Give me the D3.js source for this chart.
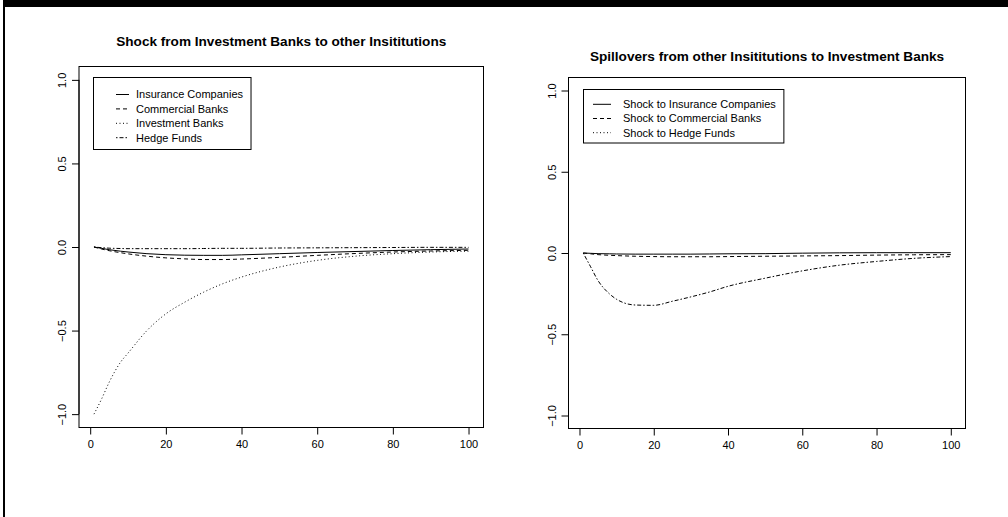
<!DOCTYPE html>
<html>
<head>
<meta charset="utf-8">
<script src="https://cdn.jsdelivr.net/npm/d3@7"></script>
<style>
  body { margin: 0; background: #fff; }
  svg { display: block; font-family: "Liberation Sans", Arial, sans-serif; }
</style>
</head>
<body>
<div id="chart"></div>
<script>
const steps = [1, 3, 5, 8, 10, 15, 20, 25, 30, 35, 40, 50, 60, 70, 80, 90, 100]

// left panel: shock from investment banks
const insurance  = [0, -0.008, -0.016, -0.025, -0.03, -0.04, -0.046, -0.049, -0.05, -0.05, -0.047, -0.04, -0.033, -0.027, -0.021, -0.016, -0.012]
const commercial = [0, -0.012, -0.022, -0.034, -0.041, -0.055, -0.065, -0.071, -0.075, -0.075, -0.072, -0.062, -0.05, -0.039, -0.03, -0.024, -0.02]
const investment = [-1.0, -0.91, -0.81, -0.69, -0.635, -0.5, -0.4, -0.33, -0.27, -0.22, -0.18, -0.12, -0.08, -0.055, -0.04, -0.03, -0.025]
const hedge      = [0, -0.004, -0.007, -0.009, -0.01, -0.01, -0.01, -0.01, -0.009, -0.008, -0.008, -0.006, -0.005, -0.004, -0.003, -0.002, -0.002]

// right panel: spillovers to investment banks
const shockInsurance  = [0, -0.002, -0.004, -0.005, -0.006, -0.007, -0.007, -0.007, -0.007, -0.006, -0.005, -0.004, -0.001, 0.001, 0.002, 0.002, 0.002]
const shockCommercial = [0, -0.005, -0.01, -0.014, -0.016, -0.02, -0.022, -0.023, -0.023, -0.023, -0.022, -0.02, -0.018, -0.016, -0.013, -0.011, -0.01]
const shockHedge      = [0, -0.085, -0.17, -0.25, -0.285, -0.32, -0.322, -0.297, -0.27, -0.24, -0.205, -0.155, -0.11, -0.075, -0.052, -0.033, -0.022]

const xTicks = [0, 20, 40, 60, 80, 100]
const yTicks = [-1.0, -0.5, 0.0, 0.5, 1.0]

const leftTitle = 'Shock from Investment Banks to other Insititutions'
const rightTitle = 'Spillovers from other Insititutions to Investment Banks'
const leftLegend = ['Insurance Companies', 'Commercial Banks', 'Investment Banks', 'Hedge Funds']
const rightLegend = ['Shock to Insurance Companies', 'Shock to Commercial Banks', 'Shock to Hedge Funds']

// R line types
const dash = { solid: null, dashed: '4,3', dotted: '1,2.5', dotdash: '1.5,2,4,2' }

var width = 1008, height = 517

var svg = d3.select('#chart').append('svg')
    .attr('width', width)
    .attr('height', height)

// outer frame: thick top bar and thin left rule
svg.append('rect').attr('x', 3).attr('y', 0).attr('width', width - 3).attr('height', 7).attr('fill', '#000')
svg.append('rect').attr('x', 3).attr('y', 0).attr('width', 2).attr('height', height).attr('fill', '#000')

function panel(cfg) {
    // R pads the range by 4% on each side
    var x = d3.scaleLinear().domain([1 - 3.96, 100 + 3.96]).range([cfg.left, cfg.right])
    var y = d3.scaleLinear().domain([-1.08, 1.08]).range([cfg.bottom, cfg.top])

    var g = svg.append('g')

    g.append('text')
        .attr('x', (cfg.left + cfg.right) / 2)
        .attr('y', cfg.titleY)
        .attr('text-anchor', 'middle')
        .attr('font-weight', 'bold')
        .attr('font-size', 13.6)
        .text(cfg.title)

    var xAxis = d3.axisBottom(x).tickValues(xTicks).tickSize(7).tickPadding(6).tickSizeOuter(0)
    var gx = g.append('g')
        .attr('transform', 'translate(0,' + cfg.bottom + ')')
        .call(xAxis)
    gx.select('.domain').attr('d', 'M' + x(0) + ',0H' + x(100))
    gx.selectAll('text').attr('font-size', 11).attr('font-family', null).attr('fill', '#000')
    gx.selectAll('line, .domain').attr('stroke', '#000')

    var yAxis = d3.axisLeft(y).tickValues(yTicks).tickSize(7).tickFormat(d3.format('.1f'))
    var gy = g.append('g')
        .attr('transform', 'translate(' + cfg.left + ',0)')
        .call(yAxis)
    gy.select('.domain').attr('d', 'M0,' + y(-1) + 'V' + y(1))
    gy.selectAll('line, .domain').attr('stroke', '#000')
    // rotated labels like R's default las=0
    gy.selectAll('text')
        .attr('x', null).attr('dy', null)
        .attr('font-size', 11).attr('font-family', null).attr('fill', '#000')
        .attr('text-anchor', 'middle')
        .attr('transform', 'translate(' + (cfg.labelX - cfg.left) + ',0) rotate(-90)')
        .attr('dy', '0.35em')

    g.append('rect')
        .attr('x', cfg.left).attr('y', cfg.top)
        .attr('width', cfg.right - cfg.left).attr('height', cfg.bottom - cfg.top)
        .attr('fill', 'none').attr('stroke', '#000')

    var line = d3.line()
        .x((d, i) => x(steps[i]))
        .y(d => y(d))
        .curve(d3.curveMonotoneX)

    cfg.series.forEach(s => {
        g.append('path')
            .attr('d', line(s.values))
            .attr('fill', 'none')
            .attr('stroke', '#000')
            .attr('stroke-width', 1)
            .attr('stroke-dasharray', dash[s.lty])
    })

    // legend box
    var lg = g.append('g')
    var rows = cfg.legend.map((lab, i) => ({ lab, lty: cfg.legendLty[i] }))
    var texts = lg.selectAll('text').data(rows).enter().append('text')
        .attr('x', cfg.lgText)
        .attr('y', (d, i) => cfg.lgRow0 + i * cfg.lgStep)
        .attr('dy', '0.35em')
        .attr('font-size', 11)
        .text(d => d.lab)
    var maxW = d3.max(texts.nodes(), n => n.getComputedTextLength())
    lg.selectAll('line').data(rows).enter().append('line')
        .attr('x1', cfg.lgLine[0]).attr('x2', cfg.lgLine[1])
        .attr('y1', (d, i) => cfg.lgRow0 + i * cfg.lgStep)
        .attr('y2', (d, i) => cfg.lgRow0 + i * cfg.lgStep)
        .attr('stroke', '#000')
        .attr('stroke-dasharray', d => dash[d.lty])
    lg.insert('rect', ':first-child')
        .attr('x', cfg.lgBox[0]).attr('y', cfg.lgBox[1])
        .attr('width', cfg.lgText + maxW + 8 - cfg.lgBox[0])
        .attr('height', cfg.lgBox[2] - cfg.lgBox[1])
        .attr('fill', '#fff').attr('stroke', '#000')
}

panel({
    left: 79, right: 483.5, top: 66.5, bottom: 427.5,
    labelX: 62, titleY: 46, title: leftTitle,
    series: [
        { values: insurance, lty: 'solid' },
        { values: commercial, lty: 'dashed' },
        { values: investment, lty: 'dotted' },
        { values: hedge, lty: 'dotdash' }
    ],
    legend: leftLegend, legendLty: ['solid', 'dashed', 'dotted', 'dotdash'],
    lgBox: [93.5, 77.5, 149.5], lgRow0: 94.5, lgStep: 14.4, lgLine: [116, 129], lgText: 136
})

panel({
    left: 568.5, right: 965.5, top: 77.5, bottom: 428.5,
    labelX: 552, titleY: 61, title: rightTitle,
    series: [
        { values: shockInsurance, lty: 'solid' },
        { values: shockCommercial, lty: 'dashed' },
        { values: shockHedge, lty: 'dotdash' }
    ],
    legend: rightLegend, legendLty: ['solid', 'dashed', 'dotted'],
    lgBox: [583.5, 89.5, 143], lgRow0: 104.3, lgStep: 14.2, lgLine: [593, 611], lgText: 623
})
</script>
</body>
</html>
